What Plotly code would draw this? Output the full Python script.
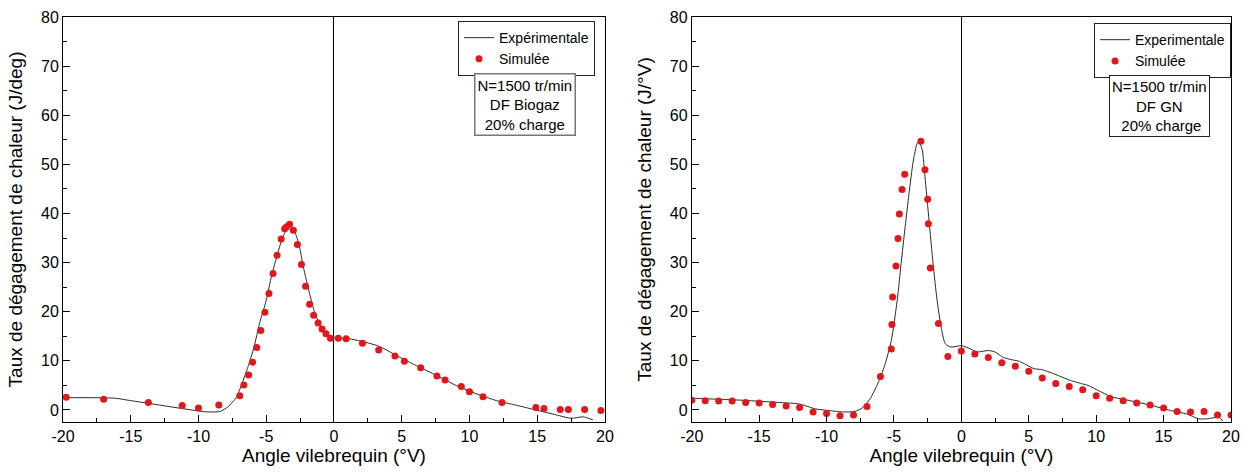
import plotly.graph_objects as go

# ---------------- Data ----------------
# Left panel: DF Biogaz
biogaz_exp_angle = [-20, -16.2, -15, -10, -9.3, -8.4, -7.8, -7.2, -6.8, -6.36, -5.9, -5.5, -5.0, -4.6,
                    -4.16, -3.8, -3.5, -3.2, -2.9, -2.6, -2.26, -1.8, -1.4, -0.94, -0.5, 0, 1.1, 2.0,
                    3.2, 3.75, 4.6, 6.1, 7.6, 9.0, 10.5, 12.0, 13.4, 14.9, 16.4, 17.5, 18.4, 19.1]
biogaz_exp_hrr = [2.5, 2.4, 1.9, -0.2, -0.4, -0.3, 0.7, 2.6, 5.3, 8.7, 12.8, 17.6, 22.3, 27.4,
                  31.8, 35.1, 36.6, 37.3, 36.3, 33.9, 29.1, 23.7, 19.6, 16.9, 15.2, 14.7, 14.5, 14.0,
                  13.1, 12.4, 11.1, 9.0, 7.0, 5.0, 3.3, 1.9, 1.0, 0.0, -1.0, -1.7, -1.4, -2.0]
biogaz_sim_angle = [-19.77, -17.0, -13.7, -11.2, -10.0, -8.5, -6.95, -6.65, -6.3, -6.0, -5.7, -5.4,
                    -5.1, -4.8, -4.5, -4.2, -3.9, -3.64, -3.5, -3.28, -3.0, -2.7, -2.4, -2.1, -1.8,
                    -1.5, -1.17, -0.88, -0.59, -0.26, 0.32, 0.9, 2.1, 3.3, 4.5, 5.2, 6.4, 7.6, 8.2,
                    9.4, 10.0, 11.0, 12.4, 14.9, 15.5, 16.7, 17.3, 18.5, 19.7]
biogaz_sim_hrr = [2.6, 2.2, 1.5, 0.9, 0.4, 1.0, 2.9, 5.1, 7.1, 9.7, 12.7, 16.2,
                  19.9, 23.7, 27.8, 31.5, 34.8, 36.9, 37.3, 37.8, 36.6, 33.7, 29.6, 25.2, 21.5,
                  19.3, 17.7, 16.5, 15.5, 14.6, 14.6, 14.5, 13.6, 12.2, 11.0, 9.9, 8.6, 6.9, 6.1,
                  4.8, 3.7, 2.7, 1.5, 0.5, 0.3, 0.1, 0.1, 0.1, -0.1]

# Right panel: DF GN
gn_exp_angle = [-20, -18.2, -16.4, -14, -12, -10.8, -9.9, -8.8, -7.9, -7.3, -6.7, -6.1, -5.65, -5.2,
                -4.76, -4.47, -4.17, -3.88, -3.58, -3.28, -3.14, -2.9, -2.7, -2.4, -2.1, -1.8, -1.5,
                -1.2, -0.77, 0, 0.7, 1.15, 2.0, 2.5, 3.1, 3.96, 4.3, 5.4, 6.0, 7.2, 8.1, 9.0, 9.4,
                10.2, 11.1, 12.5, 14.0, 15.5, 16.7, 17.6, 18.2, 19.1, 19.4]
gn_exp_hrr = [2.4, 2.2, 2.0, 1.6, 1.2, 0.2, -0.1, -0.4, -0.3, 0.5, 2.6, 6.0, 9.4, 14.1,
              22.3, 29.8, 37.3, 44.1, 50.5, 54.3, 54.6, 52.9, 47.5, 38.6, 29.8, 22.3, 16.9,
              13.5, 12.8, 13.1, 12.4, 11.8, 12.1, 11.8, 10.7, 10.1, 9.9, 8.4, 8.2, 7.0, 6.0, 5.3, 5.0,
              3.9, 2.7, 1.9, 1.0, -0.1, -0.8, -1.8, -1.8, -1.5, -2.2]
gn_sim_angle = [-20, -19, -18, -17, -16, -15, -14, -13, -12, -11, -10, -9, -8, -7, -6, -5.2, -5.15,
                -5.1, -4.85, -4.7, -4.6, -4.4, -4.2, -3.0, -2.7, -2.5, -2.45, -2.3, -1.7, -1.0, 0,
                1, 2, 3, 4, 5, 6, 7, 8, 9, 10, 11, 12, 13, 14, 15, 16, 17, 18, 19, 20]
gn_sim_hrr = [2.0, 1.9, 1.8, 1.8, 1.5, 1.4, 1.1, 0.8, 0.5, -0.4, -0.7, -1.2, -1.0, 0.7, 6.8, 12.4, 17.4,
              23.0, 29.3, 34.9, 39.9, 44.9, 48.0, 54.7, 48.9, 42.9, 37.9, 28.9, 17.6, 10.9, 12.0,
              11.4, 10.7, 9.6, 8.9, 7.9, 6.5, 5.4, 4.8, 4.1, 2.9, 2.4, 1.9, 1.4, 1.0, 0.4, -0.3, -0.4, -0.3, -1.0, -1.0]

# Text
x_title = "Angle vilebrequin (°V)"
y_title_left = "Taux de dégagement de chaleur (J/deg)"
y_title_right = "Taux de dégagement de chaleur (J/°V)"
legend_exp_left = "Expérimentale"
legend_exp_right = "Experimentale"
legend_sim = "Simulée"
note_left = "N=1500 tr/min<br>DF Biogaz<br>20% charge"
note_right = "N=1500 tr/min<br>DF GN<br> 20% charge"

x_range = [-20, 20]
y_range = [-2.45, 80]
x_ticks = [-20, -15, -10, -5, 0, 5, 10, 15, 20]
x_tick_labels = ["-20", "-15", "-10", "-5", "0", "5", "10", "15", "20"]
y_ticks = [0, 10, 20, 30, 40, 50, 60, 70, 80]
y_tick_labels = ["0", "10", "20", "30", "40", "50", "60", "70", "80"]

# ---------------- Figure ----------------
FONT = "Arial, 'Liberation Sans', sans-serif"
LINE_COLOR = "#2a2a2a"
DOT_COLOR = "#e3161b"

fig = go.Figure()

fig.add_trace(go.Scatter(x=biogaz_exp_angle, y=biogaz_exp_hrr, mode="lines", name=legend_exp_left,
                         line=dict(color=LINE_COLOR, width=1, shape="spline", smoothing=0.6),
                         xaxis="x", yaxis="y", legend="legend"))
fig.add_trace(go.Scatter(x=biogaz_sim_angle, y=biogaz_sim_hrr, mode="markers", name=legend_sim,
                         marker=dict(color=DOT_COLOR, size=7),
                         xaxis="x", yaxis="y", legend="legend"))
fig.add_trace(go.Scatter(x=gn_exp_angle, y=gn_exp_hrr, mode="lines", name=legend_exp_right,
                         line=dict(color=LINE_COLOR, width=1, shape="spline", smoothing=0.6),
                         xaxis="x2", yaxis="y2", legend="legend2"))
fig.add_trace(go.Scatter(x=gn_sim_angle, y=gn_sim_hrr, mode="markers", name=legend_sim,
                         marker=dict(color=DOT_COLOR, size=7),
                         xaxis="x2", yaxis="y2", legend="legend2"))


def xaxis_style(domain, anchor):
    return dict(domain=domain, anchor=anchor, range=x_range, automargin=False,
                tickmode="array", tickvals=x_ticks, ticktext=x_tick_labels,
                ticks="inside", ticklen=7, tickcolor="black", tickwidth=1,
                minor=dict(ticks="inside", ticklen=4, dtick=2.5, tickcolor="black"),
                showline=True, linecolor="black", linewidth=1, mirror=True,
                showgrid=False, zeroline=True, zerolinecolor="black", zerolinewidth=1,
                tickfont=dict(size=16, color="black"),
                title=dict(text=x_title, font=dict(size=19, color="black"), standoff=3))


def yaxis_style(anchor, title):
    return dict(domain=[0, 1], anchor=anchor, range=y_range, automargin=False,
                tickmode="array", tickvals=y_ticks, ticktext=y_tick_labels,
                ticks="inside", ticklen=7, tickcolor="black", tickwidth=1,
                minor=dict(ticks="inside", ticklen=4, dtick=5, tickcolor="black"),
                showline=True, linecolor="black", linewidth=1, mirror=True,
                showgrid=False, zeroline=False,
                tickfont=dict(size=16, color="black"),
                title=dict(text=title, font=dict(size=19, color="black"), standoff=13))


legend_common = dict(bgcolor="white", bordercolor="#222", borderwidth=1,
                     font=dict(size=14, color="black", family=FONT),
                     xanchor="right", yanchor="top", tracegroupgap=0, itemwidth=30)

fig.update_layout(
    width=1245, height=472,
    margin=dict(l=63, r=14, t=17, b=50, autoexpand=False),
    paper_bgcolor="white", plot_bgcolor="white",
    font=dict(family=FONT, color="black"),
    xaxis=xaxis_style([0, 0.464], "y"),
    yaxis=yaxis_style("x", y_title_left),
    xaxis2=xaxis_style([0.5383, 1.0], "y2"),
    yaxis2=yaxis_style("x2", y_title_right),
    legend=dict(x=0.4555, y=0.99, **legend_common),
    legend2=dict(x=1.0, y=0.985, **legend_common),
    annotations=[
        dict(text=note_left, xref="paper", yref="paper", x=0.3955, y=0.785,
             xanchor="center", yanchor="middle", showarrow=False, align="center",
             font=dict(size=15, color="black"), bordercolor="#777", borderwidth=1.5,
             borderpad=2, bgcolor="white"),
        dict(text=note_right, xref="paper", yref="paper", x=0.939, y=0.78,
             xanchor="center", yanchor="middle", showarrow=False, align="center",
             font=dict(size=15, color="black"), bordercolor="#222", borderwidth=1,
             borderpad=2, bgcolor="white"),
    ],
    showlegend=True,
)

fig.write_html("out.html",
               config={"displayModeBar": False},
               post_script="document.body.style.margin='0';document.body.style.overflow='hidden';")
